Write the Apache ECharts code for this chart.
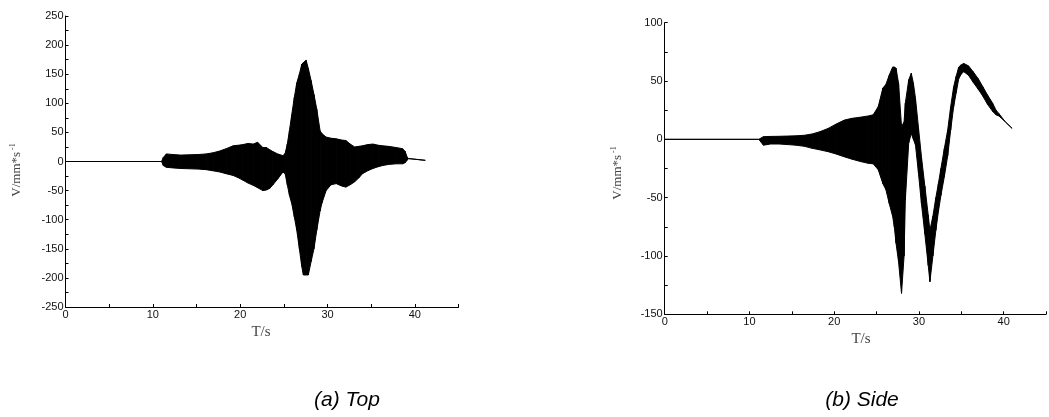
<!DOCTYPE html>
<html>
<head>
<meta charset="utf-8">
<script src="https://cdn.jsdelivr.net/npm/echarts@6/dist/echarts.min.js"></script>
<style>
html,body{margin:0;padding:0;background:#fff;}
#c{width:1049px;height:417px;}
</style>
</head>
<body>
<div id="c"></div>
<script>
// ---- Panel (a) Top: envelope of the velocity signal ----
const topT  = [0, 11.0, 11.2, 11.55, 12.3, 13.2, 14.2, 15.2, 16.1, 16.9, 17.65, 18.4, 19.2, 19.8, 20.3, 20.9, 21.5, 22.0, 22.6, 23.0, 23.4, 23.75, 24.3, 24.9, 25.15, 25.4, 25.64, 25.9, 26.2, 26.48, 26.78, 27.05, 27.24, 27.55, 27.8, 28.12, 28.45, 28.77, 29.15, 29.35, 29.84, 30.4, 31.0, 31.6, 32.1, 32.6, 33.1, 33.6, 34.0, 34.6, 35.2, 35.8, 36.3, 37.0, 37.85, 38.6, 38.9, 39.1, 39.3, 41.2];
const topHi = [0, 0, 7, 13, 12, 11, 11.5, 12, 13, 15, 18, 22, 27, 28, 29, 31, 30, 33, 24, 24, 20, 17, 13, 10, 14, 30, 53, 80, 110, 135, 150, 167, 170, 174, 160, 139, 115, 90, 53, 48, 42, 40, 39, 37, 36, 30, 25, 26, 27, 29, 30, 28, 27, 26, 24, 22, 17, 8, 5, 2];
const topLo = [0, 0, -7, -10, -11, -12, -12.5, -13, -14, -16, -18, -21, -24, -28, -32, -37, -41, -45, -50, -49, -46, -40, -30, -18, -21, -40, -58, -72, -95, -118, -150, -180, -195, -195, -195, -172, -150, -118, -85, -72, -50, -40, -38, -42, -44, -40, -35, -28, -21, -16, -12, -9, -7, -5, -4, -4, -2, 2, 5, 2];

// ---- Panel (b) Side ----
const sideT  = [0, 11.1, 11.65, 12.5, 13.5, 14.5, 15.5, 16.5, 17.4, 18.3, 19.3, 20.2, 21.2, 22.1, 23.1, 24.0, 24.6, 25.2, 25.75, 26.1, 26.5, 26.9, 27.1, 27.3, 27.6, 27.95, 28.25, 28.4, 28.8, 29.1, 29.35, 29.6, 29.95, 30.3, 30.7, 31.1, 31.3, 31.65, 32.0, 32.3, 32.6, 33.0, 33.4, 33.75, 34.1, 34.4, 34.7, 35.0, 35.3, 35.85, 36.4, 37.0, 37.55, 38.1, 38.7, 39.1, 39.45, 40.2, 41.0];
const sideHi = [0, 0, 2.3, 2.5, 2.6, 2.8, 3, 3.5, 4.6, 6.5, 9.4, 13, 16.5, 18, 19, 20, 21, 28, 44, 47, 55, 62, 62, 61, 48, 11, 15, 31, 51, 56.6, 48, 35, 10, -15, -40, -65, -78, -66, -50, -38, -25, -8, 8, 28, 45, 54, 62, 64, 65, 63, 58, 52, 45, 38, 31, 25, 22, 15, 9.4];
const sideLo = [0, 0, -5, -4, -4, -4.5, -5, -6, -7.7, -9, -10.6, -12.5, -15, -17, -19, -20.5, -21, -26, -38, -43, -55, -66, -75, -89, -105, -132, -100, -52, -3, 5, 0, -5, -29, -55, -81, -108, -122, -100, -78, -62, -48, -32, -14, 8, 28, 40, 52, 56, 58, 55, 49, 43, 37, 30, 24, 21, 20, 15, 9.4];

// ---- axes ----
const xMin = 0, xMax = 45, xStep = 10;
const topYMin = -250, topYMax = 250, topYStep = 50;
const sideYMin = -150, sideYMax = 100, sideYStep = 50;

const yTitle = '{a|V/mm*s}{b| -1}';

function band(T, Hi, Lo, idx) {
  return {
    type: 'custom',
    xAxisIndex: idx, yAxisIndex: idx,
    clip: true, silent: true,
    data: T.map((t, i) => [t, Lo[i], Hi[i]]),
    encode: { x: 0, y: [1, 2] },
    renderItem: function (params, api) {
      const i = params.dataIndex;
      if (i >= T.length - 1) return null;
      const p1 = api.coord([T[i], Hi[i]]);
      const p2 = api.coord([T[i + 1], Hi[i + 1]]);
      const p3 = api.coord([T[i + 1], Lo[i + 1]]);
      const p4 = api.coord([T[i], Lo[i]]);
      return {
        type: 'polygon',
        shape: { points: [p1, p2, p3, p4] },
        style: { fill: '#000', stroke: '#000', lineWidth: 1 }
      };
    }
  };
}

function xAxis(idx) {
  return {
    type: 'value', gridIndex: idx, min: xMin, max: xMax, interval: xStep,
    axisLine: { show: true, onZero: false, lineStyle: { color: '#000', width: 1 } },
    axisTick: { show: true, inside: true, length: 3, lineStyle: { color: '#000' } },
    minorTick: { show: true, splitNumber: 2, length: 3, lineStyle: { color: '#000' } },
    axisLabel: { margin: 2, fontSize: 11, color: '#111', fontFamily: 'Liberation Sans, Arial',
      formatter: v => (v > 40 ? '' : String(v)) },
    splitLine: { show: false }
  };
}
function yAxis(idx, mn, mx, st) {
  return {
    type: 'value', gridIndex: idx, min: mn, max: mx, interval: st,
    axisLine: { show: true, onZero: false, lineStyle: { color: '#000', width: 1 } },
    axisTick: { show: true, inside: true, length: 3, lineStyle: { color: '#000' } },
    minorTick: { show: true, splitNumber: 2, length: 3, lineStyle: { color: '#000' } },
    axisLabel: { margin: 2, fontSize: 11, color: '#111', fontFamily: 'Liberation Sans, Arial' },
    splitLine: { show: false }
  };
}

function vtitle(x, y) {
  return {
    type: 'text', x: x, y: y, rotation: Math.PI / 2,
    style: {
      text: yTitle, align: 'center', verticalAlign: 'middle',
      rich: {
        a: { fontSize: 13, fontFamily: 'Liberation Serif, DejaVu Serif', fill: '#444' },
        b: { fontSize: 8, fontFamily: 'Liberation Serif, DejaVu Serif', fill: '#444', verticalAlign: 'top', padding: [0, 0, 8, 0] }
      }
    }
  };
}
function text(x, y, s, font, color) {
  return { type: 'text', x: x, y: y, style: { text: s, font: font, fill: color, align: 'center', verticalAlign: 'middle' } };
}

const chart = echarts.init(document.getElementById('c'), null, { renderer: 'canvas' });
chart.setOption({
  animation: false,
  backgroundColor: '#fff',
  grid: [
    { left: 65.5, top: 16, width: 393, height: 291 },
    { left: 664.7, top: 22.7, width: 394, height: 291.6 }
  ],
  xAxis: [xAxis(0), xAxis(1)],
  yAxis: [yAxis(0, topYMin, topYMax, topYStep), yAxis(1, sideYMin, sideYMax, sideYStep)],
  series: [band(topT, topHi, topLo, 0), band(sideT, sideHi, sideLo, 1)],
  graphic: [
    vtitle(17, 170),
    vtitle(618, 173),
    text(261, 332, 'T/s', '15px "Liberation Serif", serif', '#444'),
    text(861, 339, 'T/s', '15px "Liberation Serif", serif', '#444'),
    text(347, 400, '(a) Top', 'italic 21px "Liberation Sans", Arial', '#000'),
    text(862, 400, '(b) Side', 'italic 21px "Liberation Sans", Arial', '#000')
  ]
});
</script>
</body>
</html>
